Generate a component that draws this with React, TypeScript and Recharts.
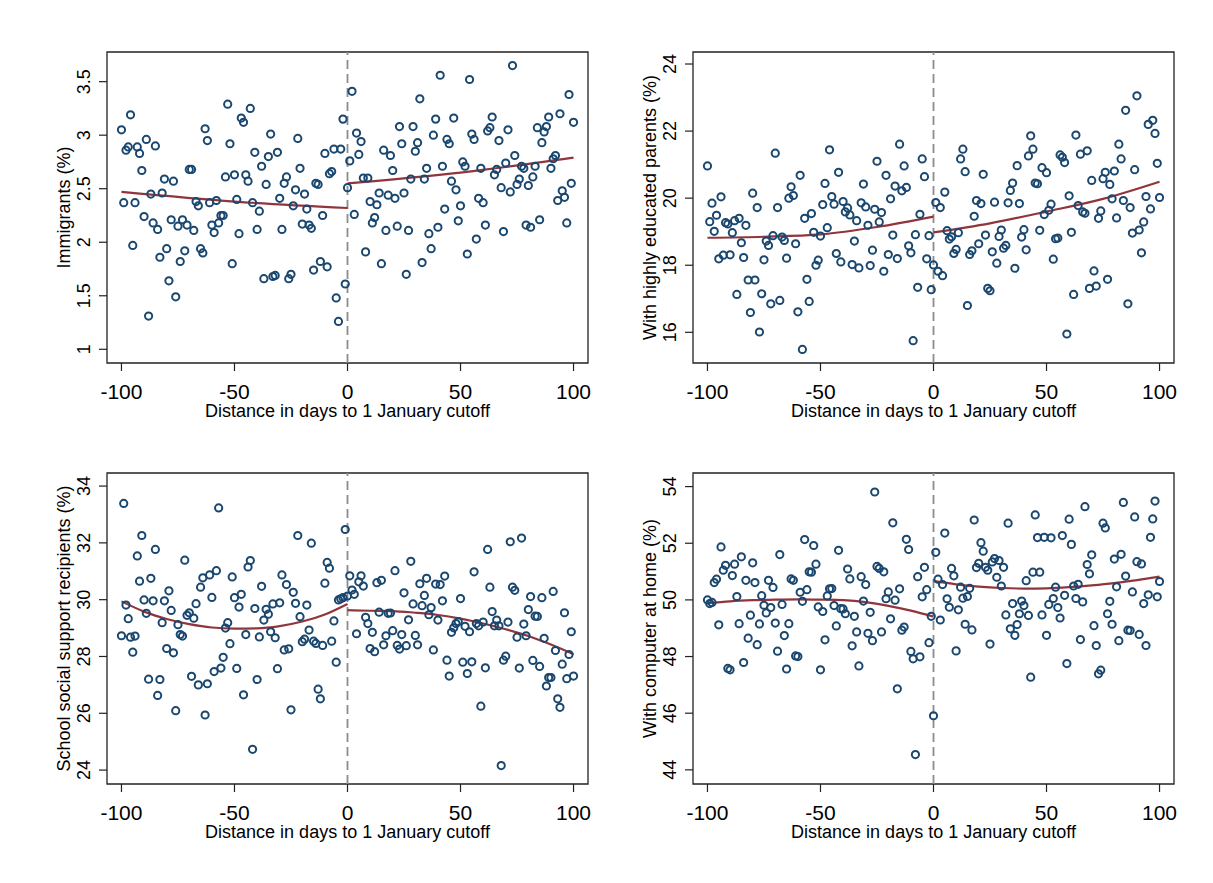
import React from 'react';
import { ComposedChart, Scatter, Line, XAxis, YAxis, ReferenceLine, ReferenceArea } from 'recharts';

const FONT = '"Liberation Sans", Arial, Helvetica, sans-serif';

const DAYS = [
  -100, -99, -98, -97, -96, -95, -94, -93, -92, -91,
  -90, -89, -88, -87, -86, -85, -84, -83, -82, -81,
  -80, -79, -78, -77, -76, -75, -74, -73, -72, -71,
  -70, -69, -68, -67, -66, -65, -64, -63, -62, -61,
  -60, -59, -58, -57, -56, -55, -54, -53, -52, -51,
  -50, -49, -48, -47, -46, -45, -44, -43, -42, -41,
  -40, -39, -38, -37, -36, -35, -34, -33, -32, -31,
  -30, -29, -28, -27, -26, -25, -24, -23, -22, -21,
  -20, -19, -18, -17, -16, -15, -14, -13, -12, -11,
  -10, -9, -8, -7, -6, -5, -4, -3, -2, -1,
  0, 1, 2, 3, 4, 5, 6, 7, 8, 9,
  10, 11, 12, 13, 14, 15, 16, 17, 18, 19,
  20, 21, 22, 23, 24, 25, 26, 27, 28, 29,
  30, 31, 32, 33, 34, 35, 36, 37, 38, 39,
  40, 41, 42, 43, 44, 45, 46, 47, 48, 49,
  50, 51, 52, 53, 54, 55, 56, 57, 58, 59,
  60, 61, 62, 63, 64, 65, 66, 67, 68, 69,
  70, 71, 72, 73, 74, 75, 76, 77, 78, 79,
  80, 81, 82, 83, 84, 85, 86, 87, 88, 89,
  90, 91, 92, 93, 94, 95, 96, 97, 98, 99,
  100,
];

const X_TICKS = [-100, -50, 0, 50, 100];
const X_TITLE = 'Distance in days to 1 January cutoff';

// Panel 1: Immigrants (%)
const immigrants = [
  3.05, 2.37, 2.86, 2.89, 3.19, 1.97, 2.37, 2.89, 2.83, 2.67,
  2.24, 2.96, 1.31, 2.45, 2.18, 2.90, 2.12, 1.86, 2.46, 2.59,
  1.94, 1.64, 2.21, 2.57, 1.49, 2.15, 1.82, 2.21, 1.92, 2.16,
  2.68, 2.68, 2.11, 2.38, 2.34, 1.94, 1.90, 3.06, 2.95, 2.37,
  2.16, 2.09, 2.39, 2.18, 2.25, 2.25, 2.61, 3.29, 2.92, 1.80,
  2.63, 2.40, 2.08, 3.16, 3.12, 2.63, 2.57, 3.25, 2.37, 2.84,
  2.12, 2.29, 2.71, 1.66, 2.54, 2.80, 3.01, 1.68, 1.69, 2.84,
  2.41, 2.12, 2.55, 2.61, 1.66, 1.70, 2.34, 2.49, 2.97, 2.69,
  2.17, 2.45, 2.31, 2.16, 2.13, 1.74, 2.55, 2.54, 1.82, 2.25,
  2.83, 1.77, 2.64, 2.66, 2.87, 1.48, 1.26, 2.87, 3.15, 1.61,
  2.51, 2.76, 3.41, 2.26, 3.02, 2.82, 2.94, 2.60, 1.91, 2.60,
  2.38, 2.18, 2.23, 2.35, 2.46, 1.80, 2.86, 2.11, 2.44, 2.81,
  2.67, 2.41, 2.15, 3.08, 2.92, 2.46, 1.70, 2.11, 2.59, 3.08,
  2.85, 2.93, 3.34, 1.81, 2.59, 2.69, 2.08, 1.94, 3.00, 3.15,
  2.14, 3.56, 2.71, 2.31, 2.96, 2.92, 2.57, 3.16, 2.49, 2.20,
  2.34, 2.75, 2.71, 1.89, 3.52, 3.01, 2.96, 2.03, 2.41, 2.69,
  2.37, 2.16, 3.04, 3.07, 3.17, 2.63, 2.68, 2.95, 2.51, 2.10,
  2.74, 3.05, 2.47, 3.65, 2.81, 2.54, 2.59, 2.71, 2.69, 2.16,
  2.53, 2.14, 2.61, 2.71, 3.07, 2.21, 2.93, 3.03, 3.08, 3.17,
  2.69, 2.78, 2.81, 2.39, 3.20, 2.48, 2.42, 2.18, 3.38, 2.55,
  3.12,
];
const immigrantsFitLeft = [[-100, 2.47], [-50, 2.38], [0, 2.32]];
const immigrantsFitRight = [[0, 2.55], [50, 2.65], [100, 2.79]];
const immigrantsTicks = [1, 1.5, 2, 2.5, 3, 3.5];

// Panel 2: With highly educated parents (%)
const educated = [
  20.96, 19.30, 19.85, 19.01, 19.49, 18.19, 20.04, 18.30, 19.27, 19.23,
  18.31, 18.97, 19.33, 17.13, 19.40, 18.67, 18.23, 19.19, 17.56, 16.59,
  20.15, 17.56, 19.72, 16.01, 17.15, 18.16, 18.72, 18.59, 16.85, 18.88,
  21.34, 19.72, 16.95, 18.84, 18.74, 18.21, 20.00, 20.34, 20.08, 18.64,
  16.61, 20.68, 15.49, 19.40, 17.58, 16.92, 19.54, 18.98, 18.00, 18.15,
  18.87, 19.81, 20.44, 19.12, 21.44, 20.05, 19.82, 18.35, 20.77, 18.10,
  19.90, 19.59, 19.71, 19.50, 18.02, 18.72, 19.33, 17.92, 19.86, 20.42,
  19.74, 19.19, 17.99, 18.45, 19.67, 21.10, 19.29, 19.57, 17.82, 20.68,
  18.32, 19.98, 18.90, 20.36, 18.20, 21.61, 20.22, 20.96, 20.32, 18.58,
  18.37, 15.75, 18.91, 17.34, 19.52, 21.17, 20.64, 18.19, 18.88, 17.27,
  18.01, 19.87, 17.82, 19.72, 17.69, 20.18, 19.03, 18.78, 18.85, 18.35,
  18.47, 18.97, 21.17, 21.46, 20.79, 16.80, 18.32, 18.43, 19.46, 19.93,
  18.64, 19.84, 20.71, 18.90, 17.31, 17.24, 18.40, 19.88, 18.06, 18.86,
  19.05, 18.51, 18.59, 19.86, 20.23, 20.45, 17.91, 20.97, 19.84, 18.84,
  19.06, 18.46, 21.26, 21.86, 21.46, 20.45, 20.43, 19.04, 20.91, 19.51,
  20.76, 19.64, 19.82, 18.18, 18.79, 18.81, 21.29, 21.22, 21.06, 15.95,
  20.07, 18.98, 17.13, 21.88, 19.78, 21.31, 19.59, 19.55, 21.41, 17.31,
  20.53, 17.83, 17.38, 19.40, 19.62, 20.58, 20.77, 17.58, 20.41, 19.98,
  20.81, 19.41, 21.61, 21.17, 19.93, 22.62, 16.85, 19.72, 18.96, 20.85,
  23.05, 19.05, 18.37, 19.29, 20.05, 22.20, 19.68, 22.32, 21.93, 21.04,
  20.02,
];
const educatedFitLeft = [[-100, 18.82], [-75, 18.85], [-50, 18.92], [-25, 19.14], [0, 19.45]];
const educatedFitRight = [[0, 18.98], [25, 19.25], [50, 19.6], [75, 19.98], [100, 20.49]];
const educatedTicks = [16, 18, 20, 22, 24];

// Panel 3: School social support recipients (%)
const support = [
  28.73, 33.39, 29.81, 29.33, 28.68, 28.15, 28.72, 31.54, 30.65, 32.26,
  29.99, 29.52, 27.20, 30.75, 29.96, 31.77, 26.63, 27.19, 29.19, 29.96,
  28.28, 30.31, 29.62, 28.13, 26.09, 29.12, 28.77, 28.72, 31.39, 29.45,
  29.54, 27.30, 29.35, 29.86, 27.00, 30.44, 30.77, 25.94, 27.04, 30.87,
  30.08, 27.47, 31.02, 33.23, 27.59, 27.97, 29.00, 29.19, 28.45, 30.80,
  30.07, 27.58, 29.74, 30.19, 26.65, 28.77, 31.15, 31.38, 24.73, 29.69,
  27.19, 28.69, 30.47, 29.28, 29.66, 29.49, 28.87, 29.85, 28.66, 27.57,
  29.89, 30.87, 28.23, 30.53, 28.27, 26.12, 30.26, 29.87, 32.26, 29.40,
  28.52, 28.61, 29.81, 28.93, 31.99, 28.54, 28.46, 26.85, 26.51, 28.39,
  30.58, 31.31, 31.11, 28.54, 29.25, 27.80, 29.99, 30.03, 30.07, 32.47,
  30.13, 30.84, 30.34, 30.19, 28.80, 30.63, 30.84, 30.48, 29.38, 29.16,
  28.28, 28.85, 28.17, 30.60, 29.56, 30.68, 28.41, 28.73, 29.52, 29.53,
  28.91, 31.02, 28.39, 28.26, 28.77, 30.24, 28.38, 29.29, 31.35, 29.85,
  28.74, 28.41, 30.56, 29.79, 30.15, 30.75, 29.47, 29.72, 28.23, 30.55,
  29.28, 30.53, 29.96, 30.83, 27.87, 27.31, 28.85, 29.01, 29.16, 29.23,
  30.04, 27.80, 29.06, 27.40, 28.87, 27.81, 30.98, 29.16, 29.08, 26.25,
  29.21, 27.60, 31.77, 30.44, 29.58, 29.08, 29.28, 29.08, 24.16, 27.87,
  28.01, 29.21, 32.04, 30.44, 30.33, 28.68, 27.59, 32.17, 29.14, 28.73,
  29.65, 30.11, 27.86, 29.42, 29.41, 27.65, 30.07, 28.64, 26.96, 27.26,
  27.26, 30.29, 28.21, 26.51, 26.21, 27.73, 29.54, 27.22, 28.07, 28.87,
  27.31,
];
const supportFitLeft = [
  [-100, 29.94], [-90, 29.58], [-80, 29.32], [-70, 29.14], [-60, 29.02], [-50, 28.98],
  [-40, 28.99], [-30, 29.07], [-20, 29.23], [-10, 29.48], [0, 29.85],
];
const supportFitRight = [
  [0, 29.63], [10, 29.61], [20, 29.6], [30, 29.54], [40, 29.46], [50, 29.33],
  [60, 29.16], [70, 28.96], [80, 28.72], [90, 28.42], [100, 28.08],
];
const supportTicks = [24, 26, 28, 30, 32, 34];

// Panel 4: With computer at home (%)
const computer = [
  50.00, 49.87, 49.91, 50.61, 50.73, 49.12, 51.87, 51.05, 51.22, 47.58,
  47.53, 50.86, 51.26, 50.12, 49.16, 51.52, 47.79, 50.69, 48.65, 49.46,
  51.31, 50.61, 48.42, 49.15, 50.15, 49.81, 49.54, 50.69, 49.73, 50.44,
  49.18, 48.19, 51.60, 49.84, 48.74, 47.56, 49.16, 50.74, 50.69, 48.02,
  48.00, 50.27, 49.95, 52.13, 50.36, 50.99, 50.98, 51.92, 51.26, 49.75,
  47.53, 49.59, 48.59, 50.14, 50.39, 50.40, 49.80, 49.08, 51.75, 49.69,
  49.68, 49.51, 51.09, 50.74, 48.38, 49.42, 48.87, 47.67, 50.82, 49.96,
  50.54, 48.82, 49.56, 48.56, 53.81, 51.18, 51.11, 48.87, 50.99, 50.04,
  50.28, 49.33, 52.72, 49.99, 46.86, 50.39, 48.93, 49.04, 52.14, 51.78,
  48.18, 47.92, 44.54, 50.82, 47.99, 50.11, 51.15, 50.36, 48.49, 49.42,
  45.91, 51.68, 50.73, 49.29, 50.54, 52.36, 50.04, 49.74, 51.11, 50.85,
  48.20, 49.65, 50.45, 50.06, 49.14, 50.12, 50.41, 48.94, 52.82, 51.14,
  51.29, 52.02, 51.72, 51.15, 51.05, 48.44, 51.34, 51.46, 50.80, 51.39,
  50.49, 51.15, 49.47, 52.71, 48.98, 49.87, 48.75, 49.13, 49.51, 49.96,
  49.80, 50.68, 49.45, 47.27, 50.98, 53.00, 52.20, 50.98, 49.47, 52.21,
  48.75, 49.84, 52.19, 50.05, 50.45, 49.73, 49.36, 52.27, 50.16, 47.75,
  52.85, 51.96, 50.49, 50.05, 50.55, 48.60, 49.93, 53.29, 51.25, 50.92,
  51.59, 49.09, 48.39, 47.39, 47.52, 52.71, 52.54, 49.51, 49.95, 49.14,
  51.44, 50.46, 48.56, 51.61, 53.44, 50.84, 48.93, 48.92, 50.28, 52.93,
  51.35, 48.78, 51.27, 49.87, 48.39, 50.18, 52.21, 52.86, 53.49, 50.11,
  50.65,
];
const computerFitLeft = [
  [-100, 49.88], [-90, 49.95], [-80, 49.99], [-70, 50.01], [-60, 50.02], [-50, 50.01],
  [-40, 49.99], [-30, 49.92], [-20, 49.79], [-10, 49.62], [0, 49.41],
];
const computerFitRight = [
  [0, 50.67], [10, 50.55], [20, 50.47], [30, 50.42], [40, 50.4], [50, 50.41],
  [60, 50.45], [70, 50.51], [80, 50.59], [90, 50.7], [100, 50.82],
];
const computerTicks = [44, 46, 48, 50, 52, 54];

const MARKER = '#1a476f';
const FIT = '#90353b';
const FRAME = '#222222';
const X_DOMAIN: [number, number] = [-106.4, 106.4];

const CW = 600;
const CH = 440;
const MARGIN = { top: 52, right: 12, bottom: 17, left: 47 };

const XTick = (props: any) => {
  const { x, y, payload } = props;
  return (
    <text x={x} y={y + 26} textAnchor="middle" fontSize={21} fontFamily={FONT} fill="#000">
      {String(payload.value)}
    </text>
  );
};

const YTick = (props: any) => {
  const { x, y, payload } = props;
  const bx = x - 6.5;
  return (
    <text
      x={bx}
      y={y}
      transform={`rotate(-90 ${bx} ${y})`}
      textAnchor="middle"
      fontSize={18}
      fontFamily={FONT}
      fill="#000"
    >
      {String(payload.value)}
    </text>
  );
};

const Circle = (props: any) => {
  const { cx, cy } = props;
  if (cx == null || cy == null) return null;
  return <circle cx={cx} cy={cy} r={3.6} fill="none" stroke={MARKER} strokeWidth={2} />;
};

type PanelProps = {
  left: number;
  top: number;
  values: number[];
  fitLeft: number[][];
  fitRight: number[][];
  yDomain: [number, number];
  yTicks: number[];
  yTitle: string;
};

function Panel(p: PanelProps) {
  const pts = DAYS.map((d, i) => ({ x: d, y: p.values[i] }));
  const fl = p.fitLeft.map(([x, y]) => ({ x, y }));
  const fr = p.fitRight.map(([x, y]) => ({ x, y }));
  return (
    <div style={{ position: 'absolute', left: p.left, top: p.top }}>
      <ComposedChart width={CW} height={CH} margin={MARGIN}>
        <XAxis
          type="number"
          dataKey="x"
          domain={X_DOMAIN}
          ticks={X_TICKS}
          interval={0}
          allowDataOverflow
          axisLine={false}
          tickLine={{ stroke: FRAME, strokeWidth: 1.2 }}
          tickSize={8}
          tick={XTick}
          height={60}
          label={{
            value: X_TITLE,
            position: 'insideBottom',
            offset: 6,
            fontSize: 18,
            fill: '#000',
            fontFamily: FONT,
          }}
        />
        <YAxis
          type="number"
          dataKey="y"
          domain={p.yDomain}
          ticks={p.yTicks}
          interval={0}
          allowDataOverflow
          axisLine={false}
          tickLine={{ stroke: FRAME, strokeWidth: 1.2 }}
          tickSize={8}
          tick={YTick}
          width={60}
          label={{
            value: p.yTitle,
            angle: -90,
            position: 'insideLeft',
            offset: 16.5,
            fontSize: 18,
            fill: '#000',
            fontFamily: FONT,
            style: { textAnchor: 'middle' },
          }}
        />
        <ReferenceLine x={0} stroke="#8c8c8c" strokeWidth={1.8} strokeDasharray="9 5" ifOverflow="visible" />
        <Scatter data={pts} shape={Circle} isAnimationActive={false} />
        <Line data={fl} dataKey="y" type="monotone" dot={false} activeDot={false} stroke={FIT} strokeWidth={2.2} isAnimationActive={false} />
        <Line data={fr} dataKey="y" type="monotone" dot={false} activeDot={false} stroke={FIT} strokeWidth={2.2} isAnimationActive={false} />
        <ReferenceArea
          x1={X_DOMAIN[0]}
          x2={X_DOMAIN[1]}
          y1={p.yDomain[0]}
          y2={p.yDomain[1]}
          fill="none"
          fillOpacity={0}
          stroke={FRAME}
          strokeWidth={1.3}
          strokeOpacity={1}
          ifOverflow="visible"
        />
      </ComposedChart>
    </div>
  );
}

export default function App() {
  return (
    <div
      style={{
        position: 'absolute',
        left: 0,
        top: 0,
        width: 1213,
        height: 883,
        background: '#fff',
        fontFamily: FONT,
      }}
    >
      <Panel
        left={0}
        top={0}
        values={immigrants}
        fitLeft={immigrantsFitLeft}
        fitRight={immigrantsFitRight}
        yDomain={[0.872, 3.777]}
        yTicks={immigrantsTicks}
        yTitle="Immigrants (%)"
      />
      <Panel
        left={586}
        top={0}
        values={educated}
        fitLeft={educatedFitLeft}
        fitRight={educatedFitRight}
        yDomain={[15.085, 24.358]}
        yTicks={educatedTicks}
        yTitle="With highly educated parents (%)"
      />
      <Panel
        left={0}
        top={421}
        values={support}
        fitLeft={supportFitLeft}
        fitRight={supportFitRight}
        yDomain={[23.51, 34.46]}
        yTicks={supportTicks}
        yTitle="School social support recipients (%)"
      />
      <Panel
        left={586}
        top={421}
        values={computer}
        fitLeft={computerFitLeft}
        fitRight={computerFitRight}
        yDomain={[43.5, 54.48]}
        yTicks={computerTicks}
        yTitle="With computer at home (%)"
      />
    </div>
  );
}
